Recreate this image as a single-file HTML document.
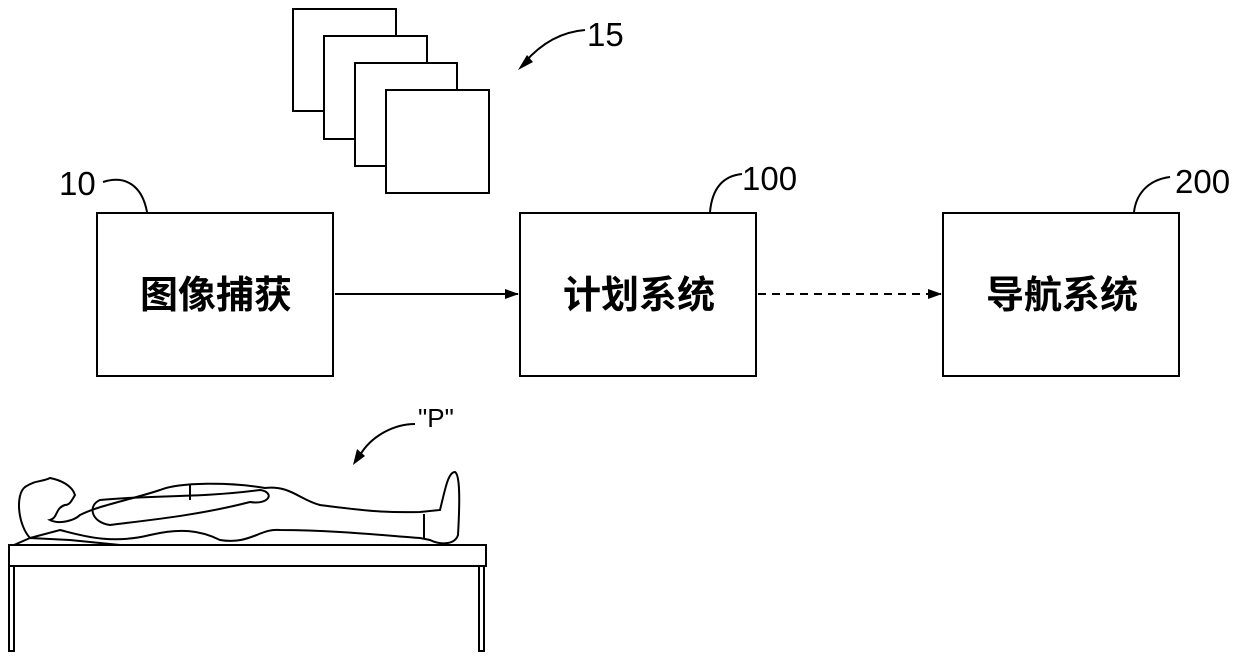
<!DOCTYPE html>
<html><head><meta charset="utf-8"><style>
body{margin:0;background:#fff;}
svg{display:block}
.t{font-family:"Liberation Sans","Noto Sans CJK SC",sans-serif;}
</style></head><body>
<svg width="1240" height="661" viewBox="0 0 1240 661" xmlns="http://www.w3.org/2000/svg">
<defs><marker id="ah" markerWidth="14" markerHeight="10" refX="13" refY="5" orient="auto" markerUnits="userSpaceOnUse"><path d="M0,0 L14,5 L0,10 Z" fill="#000"/></marker></defs>
<g fill="#fff" stroke="#000" stroke-width="2">
<rect x="293" y="9" width="103" height="102"/>
<rect x="324" y="36" width="103" height="103"/>
<rect x="355" y="63" width="102" height="103"/>
<rect x="386" y="90" width="103" height="103"/>
<rect x="97" y="213" width="236" height="163"/>
<rect x="520" y="213" width="236" height="163"/>
<rect x="943" y="213" width="236" height="163"/>
</g>
<g fill="none" stroke="#000" stroke-width="2">
<path d="M585,30 C560,32 540,45 525,62"/>
<path d="M103,182 C125,175 142,185 147,212"/>
<path d="M710,212 C712,190 722,176 742,174"/>
<path d="M1134,212 C1136,195 1147,180 1170,177"/>
<line x1="335" y1="294" x2="518" y2="294" marker-end="url(#ah)"/>
<line x1="758" y1="294" x2="941" y2="294" stroke-dasharray="8,6" marker-end="url(#ah)"/>
<path d="M415,424 C395,424 372,435 360,455"/>
</g>
<path d="M518,70 L527,55 L533,62 Z" fill="#000"/>
<path d="M353,465 L357,449 L365,456 Z" fill="#000"/>
<g class="t" font-size="33" fill="#000">
<text x="587" y="46">15</text>
<text x="59" y="195">10</text>
<text x="742" y="190">100</text>
<text x="1175" y="193">200</text>
<text x="418" y="427" font-size="26">"P"</text>
</g>
<g class="t" font-size="38" font-weight="bold" fill="#000" text-anchor="middle">
<text x="216" y="308">图像捕获</text>
<text x="639" y="308">计划系统</text>
<text x="1062" y="308">导航系统</text>
</g>
<g fill="none" stroke="#000" stroke-width="2">
<rect x="9" y="545" width="477" height="21"/>
<rect x="9" y="566" width="5" height="85"/>
<rect x="479" y="566" width="5" height="85"/>
<path d="M14,545 L30,538 L70,540 L120,545"/>
<path d="M30,538 C18,525 15,495 25,487 C35,480 42,482 50,478 C60,480 72,485 75,495 C72,500 70,505 65,505 C55,508 58,518 50,520 C60,525 75,520 80,515 C100,505 130,500 160,490 C180,482 230,482 265,488 C290,485 300,500 320,505 C360,510 380,513 420,512 L440,510 C445,490 448,472 455,472 C460,475 460,500 458,535 C455,545 440,545 430,540 L420,538 C380,535 330,530 280,530 C260,528 250,545 220,540 C200,530 180,528 150,535 C110,545 80,535 60,530 Z"/>
<path d="M100,500 C150,495 200,498 260,490 C275,492 270,505 250,502 C200,515 150,520 110,525 C90,522 88,505 100,500 Z"/>
<line x1="190" y1="484" x2="190" y2="500"/>
<line x1="424" y1="514" x2="424" y2="538"/>
</g>
</svg>
</body></html>
